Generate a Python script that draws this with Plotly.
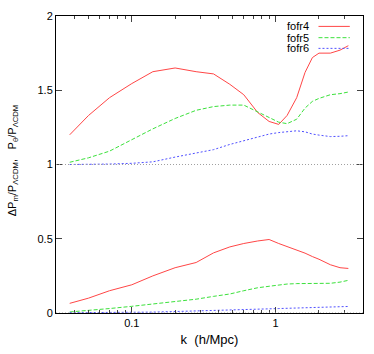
import plotly.graph_objects as go

# data ------------------------------------------------------------------------
k = [0.037, 0.05, 0.07, 0.1, 0.14, 0.2, 0.28, 0.37, 0.48, 0.6, 0.75,
     0.9, 1.05, 1.2, 1.4, 1.6, 1.8, 2.0, 2.4, 2.8, 3.2]

# P_theta / P_LCDM
ptheta_fofr4 = [1.20, 1.33, 1.45, 1.545, 1.625, 1.65, 1.625, 1.61, 1.54, 1.47, 1.35,
                1.29, 1.27, 1.33, 1.45, 1.62, 1.72, 1.75, 1.75, 1.77, 1.80]
ptheta_fofr5 = [1.015, 1.045, 1.09, 1.17, 1.24, 1.31, 1.365, 1.39, 1.40, 1.40, 1.355,
                1.315, 1.285, 1.275, 1.305, 1.38, 1.425, 1.445, 1.47, 1.477, 1.488]
ptheta_fofr6 = [1.0, 1.0, 1.003, 1.008, 1.018, 1.05, 1.075, 1.10, 1.135, 1.16, 1.185,
                1.205, 1.215, 1.222, 1.227, 1.22, 1.205, 1.198, 1.188, 1.19, 1.194]

# Delta P_m / P_LCDM
dpm_fofr4 = [0.065, 0.10, 0.15, 0.19, 0.25, 0.305, 0.34, 0.405, 0.445, 0.468, 0.485,
             0.495, 0.468, 0.447, 0.425, 0.403, 0.38, 0.362, 0.325, 0.305, 0.30]
dpm_fofr5 = [0.007, 0.017, 0.03, 0.045, 0.06, 0.08, 0.093, 0.112, 0.128, 0.15, 0.17,
             0.18, 0.19, 0.195, 0.198, 0.199, 0.198, 0.197, 0.20, 0.208, 0.22]
dpm_fofr6 = [0.002, 0.002, 0.003, 0.004, 0.006, 0.01, 0.013, 0.016, 0.02, 0.023, 0.026,
             0.028, 0.03, 0.032, 0.034, 0.036, 0.038, 0.039, 0.041, 0.043, 0.044]

names = ["fofr4", "fofr5", "fofr6"]
x_major = [0.1, 1]
x_minor = [0.04, 0.05, 0.06, 0.07, 0.08, 0.09, 0.2, 0.3, 0.4, 0.5, 0.6, 0.7, 0.8, 0.9, 2, 3, 4]
y_ticks = [0, 0.5, 1, 1.5, 2]

# styles ----------------------------------------------------------------------
colors = ["rgb(255,70,70)", "rgb(60,225,60)", "rgb(80,80,255)"]
dashes = ["solid", "4px,2px", "2px,2px"]

fig = go.Figure()

for i, (up, low) in enumerate(zip([ptheta_fofr4, ptheta_fofr5, ptheta_fofr6],
                                  [dpm_fofr4, dpm_fofr5, dpm_fofr6])):
    for ys in (up, low):
        fig.add_trace(go.Scatter(x=k, y=ys, mode="lines", showlegend=False,
                                 line=dict(color=colors[i], width=1, dash=dashes[i])))

# reference lines at 0 and 1
for yv in (0, 1):
    fig.add_shape(type="line", xref="paper", x0=0, x1=1, y0=yv, y1=yv,
                  line=dict(color="rgb(160,160,160)", width=1, dash="1px,2px"))

# hand made legend (gnuplot style: text then sample)
leg_y = [0.965, 0.927, 0.891]
for i, name in enumerate(names):
    fig.add_annotation(x=0.83, y=leg_y[i], xref="paper", yref="paper", text=name,
                       showarrow=False, xanchor="right", yanchor="middle",
                       font=dict(size=11, color="black"))
    fig.add_shape(type="line", xref="paper", yref="paper", x0=0.855, x1=0.957,
                  y0=leg_y[i], y1=leg_y[i],
                  line=dict(color=colors[i], width=1, dash=dashes[i]))

# y labels
fig.add_annotation(x=-0.14, y=0.625, xref="paper", yref="paper", xanchor="center",
                   text="P<sub>θ</sub>/P<sub>ΛCDM</sub>", textangle=-90,
                   showarrow=False, font=dict(size=11, color="black"))
fig.add_annotation(x=-0.14, y=0.42, xref="paper", yref="paper", xanchor="center",
                   text="ΔP<sub>m</sub>/P<sub>ΛCDM</sub>,", textangle=-90,
                   showarrow=False, font=dict(size=11, color="black"))

fig.update_xaxes(type="log", range=[-1.527, 0.607], tickvals=x_major,
                 ticktext=["0.1", "1"], ticks="inside", ticklen=6,
                 showline=True, linecolor="black", linewidth=1, mirror="allticks",
                 showgrid=False, zeroline=False,
                 minor=dict(tickvals=x_minor, ticks="inside", ticklen=3, showgrid=False),
                 title=dict(text="k  (h/Mpc)", standoff=6),
                 tickfont=dict(size=11))
fig.update_yaxes(range=[0, 2], tickvals=y_ticks, ticktext=["0", "0.5", "1", "1.5", "2"],
                 ticks="inside", ticklen=6, showline=True, linecolor="black",
                 linewidth=1, mirror="allticks", showgrid=False, zeroline=False,
                 tickfont=dict(size=11))

fig.update_layout(width=374, height=354,
                  margin=dict(l=56, r=10, t=10, b=38),
                  plot_bgcolor="white", paper_bgcolor="white",
                  font=dict(family="Liberation Sans, Arial, sans-serif", size=11, color="black"),
                  showlegend=False)

# drop the default 8px body margin so the figure sits at the window corner
fig.write_html("out.html", config={"displayModeBar": False},
               post_script="document.body.style.margin = '0';")
